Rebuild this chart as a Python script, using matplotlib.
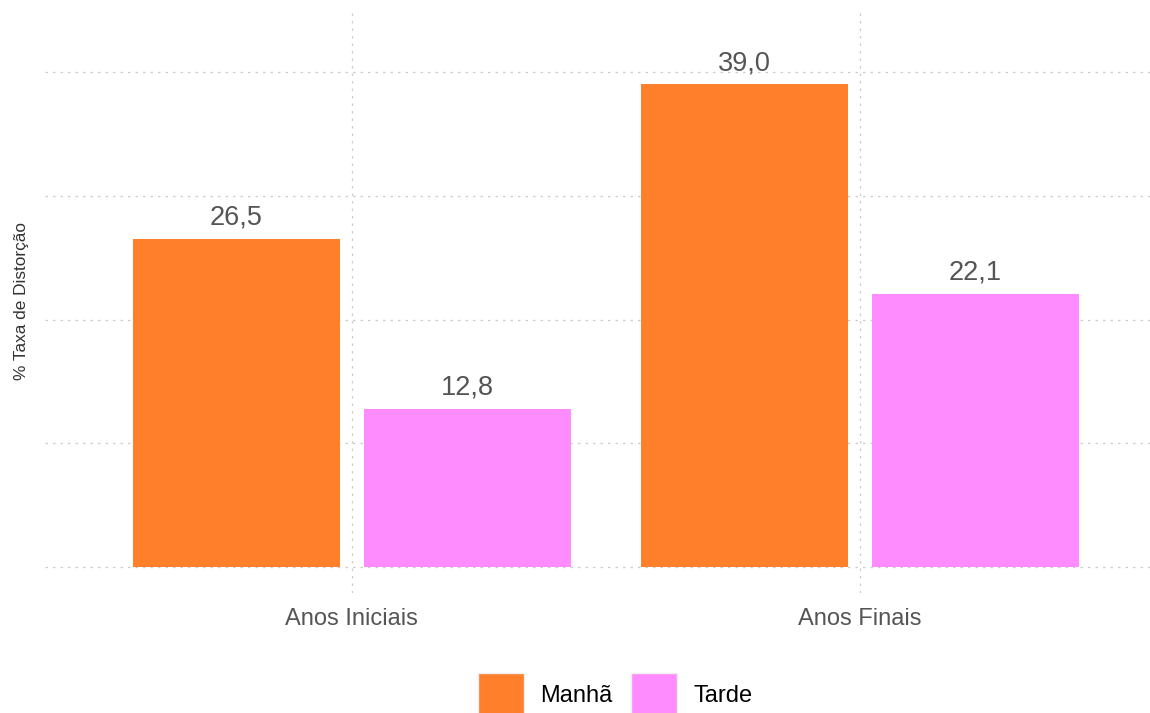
import matplotlib.pyplot as plt
import numpy as np
from matplotlib.patches import Patch

# Data
categories = ['Anos Iniciais', 'Anos Finais']
series = ['Manhã', 'Tarde']
manha = [26.5, 39.0]
tarde = [12.8, 22.1]
colors = ['#FF7F2A', '#FF8CFF']

plt.rcParams['font.family'] = ['Liberation Sans', 'DejaVu Sans']

fig = plt.figure(figsize=(11.5, 7.13), dpi=100)
ax = fig.add_axes([45 / 1150, 1 - 593 / 713, 1 - 45 / 1150, (593 - 12) / 713])

x = np.arange(len(categories))
w = 0.407
offset = 0.2275
b1 = ax.bar(x - offset, manha, width=w, color=colors[0], zorder=2)
b2 = ax.bar(x + offset, tarde, width=w, color=colors[1], zorder=2)

# Value labels
for bars, vals in [(b1, manha), (b2, tarde)]:
    for bar, v in zip(bars, vals):
        ax.annotate(f'{v:.1f}'.replace('.', ','),
                    (bar.get_x() + bar.get_width() / 2, v),
                    xytext=(0, 6), textcoords='offset points',
                    ha='center', va='bottom', fontsize=19.5, color='#555555')

ax.set_xlim(-0.604, 1.571)
ax.set_ylim(-2.1, 44.85)
ax.set_xticks(x)
ax.set_xticklabels(categories, fontsize=17, color='#555555')
ax.set_yticks([0, 10, 20, 30, 40])
ax.set_yticklabels([])
ax.tick_params(length=0, pad=11)
ax.grid(True, linestyle=(0, (2, 4)), color='#cccccc', linewidth=0.9, zorder=0)
for s in ax.spines.values():
    s.set_visible(False)

ax.set_ylabel('% Taxa de Distorção', fontsize=12.4, color='#333333')
ax.yaxis.set_label_coords(-0.0145, 0.503)

handles = [Patch(facecolor=c, edgecolor='#eeeeee', label=s) for c, s in zip(colors, series)]
fig.legend(handles=handles, loc='lower center', bbox_to_anchor=(0.535, -0.035),
           ncol=2, frameon=False, fontsize=17, handlelength=1.95, handleheight=2.5,
           handletextpad=0.7, columnspacing=0.8)

fig.savefig('out.png', dpi=100)
